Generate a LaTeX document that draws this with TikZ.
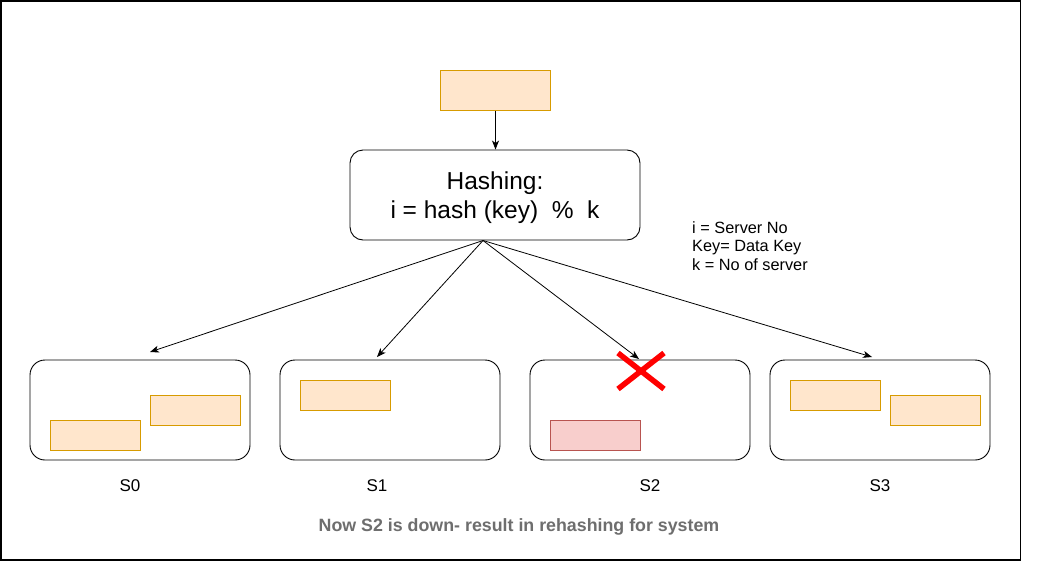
\documentclass[tikz,border=0pt]{standalone}
\usepackage{fontspec}
\setmainfont{Liberation Sans}
\usetikzlibrary{arrows.meta}
\definecolor{datafill}{HTML}{FFE6CC}
\definecolor{datadraw}{HTML}{D79B00}
\definecolor{downfill}{HTML}{F8CECC}
\definecolor{downdraw}{HTML}{B85450}
\definecolor{notegray}{HTML}{6E6E6E}
\begin{document}
\begin{tikzpicture}[x=1pt,y=-1pt,
  databox/.style={draw=datadraw,fill=datafill,line width=1pt,minimum width=90pt,minimum height=30pt,inner sep=0pt},
  downbox/.style={draw=downdraw,fill=downfill,line width=1pt,minimum width=90pt,minimum height=30pt,inner sep=0pt},
  serverbox/.style={draw=black,line width=0.9pt,rounded corners=15pt,minimum width=220pt,minimum height=100pt,inner sep=0pt},
  hashbox/.style={draw=black,line width=0.9pt,rounded corners=13pt,minimum width=290pt,minimum height=90pt,inner sep=0pt,align=center,text depth=0pt,font=\fontsize{24.5}{29.5}\selectfont},
  conn/.style={draw=black,line width=0.8pt,-{Stealth[length=9pt,width=7pt,inset=2.5pt]}},
  slabel/.style={anchor=base,inner sep=0pt,font=\fontsize{17}{20}\selectfont}
]
\useasboundingbox (0,0) rectangle (1041,562);
\fill[white] (0,0) rectangle (1041,562);
\draw[line width=1.4pt] (1,1) rectangle (1020.5,560);

% input data box
\node[databox,minimum width=110pt,minimum height=40pt] (key) at (495.5,90) {};
% hashing box
\node[hashbox] (hash) at (495,195) {Hashing:\\i = hash (key)\ \ \%\ \ k};
\draw[conn] (key.south) -- (key.south |- hash.north);

% legend
\node[anchor=north west,inner sep=0pt,align=left,font=\fontsize{16.3}{18.6}\selectfont] (legend) at (692,221) {i = Server No\\Key= Data Key\\k = No of server};

% servers
\node[serverbox] (s0) at (140,410) {};
\node[serverbox] (s1) at (390,410) {};
\node[serverbox] (s2) at (640,410) {};
\node[serverbox] (s3) at (880,410) {};

% data inside servers
\node[databox] (d0a) at (95,435) {};
\node[databox] (d0b) at (195,410) {};
\node[databox] (d1a) at (345,395) {};
\node[downbox] (d2a) at (595,435) {};
\node[databox] (d3a) at (835,395) {};
\node[databox] (d3b) at (935,410) {};

% connectors
\coordinate (src) at (483,240.5);
\coordinate (e0) at (150,352);
\coordinate (e1) at (377,357);
\coordinate (e2) at (639,359);
\coordinate (e3) at (872,357);
\draw[conn] (src) -- (e0);
\draw[conn] (src) -- (e1);
\draw[conn] (src) -- (e2);
\draw[conn] (src) -- (e3);

% red cross
\coordinate (xa) at (618,353);
\coordinate (xb) at (664,389);
\coordinate (xc) at (618,389);
\coordinate (xd) at (664,353);
\draw[red,line width=5.5pt] (xa) -- (xb);
\draw[red,line width=5.5pt] (xc) -- (xd);

% labels
\node[slabel] (l0) at (130,491.5) {S0};
\node[slabel] (l1) at (377,491.5) {S1};
\node[slabel] (l2) at (650,491.5) {S2};
\node[slabel] (l3) at (880,491.5) {S3};

\node[anchor=base,inner sep=0pt,text=notegray,font=\bfseries\fontsize{17.8}{21}\selectfont] (note) at (519,531.5) {Now S2 is down- result in rehashing for system};
\end{tikzpicture}
\end{document}
